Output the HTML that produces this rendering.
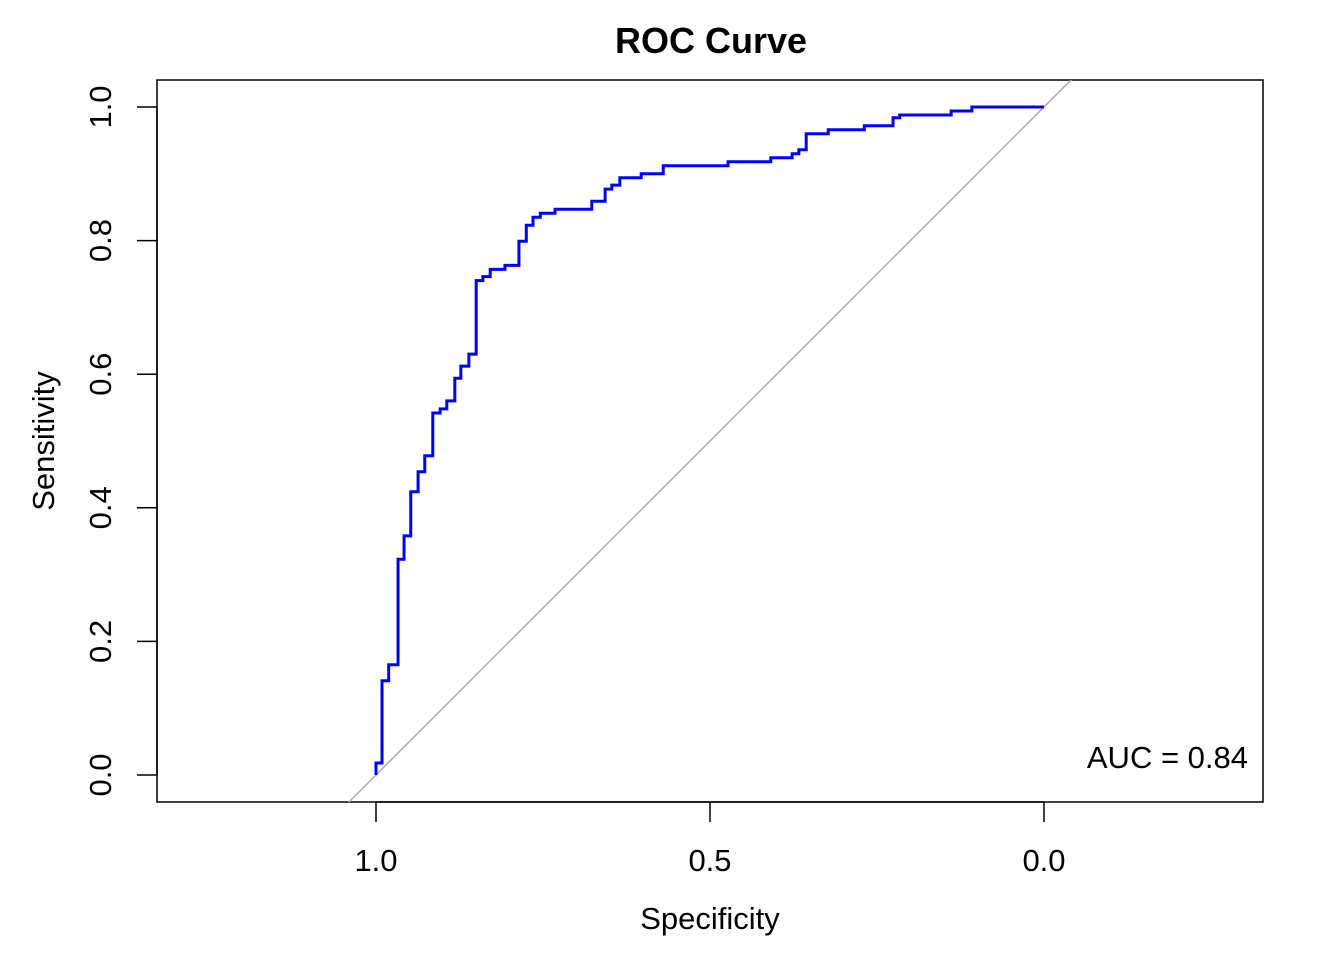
<!DOCTYPE html>
<html><head><meta charset="utf-8"><style>
html,body{margin:0;padding:0;background:#fff}
svg text{font-family:"Liberation Sans",Arial,sans-serif;fill:#000}
</style></head><body>
<svg width="1344" height="960" viewBox="0 0 1344 960" xmlns="http://www.w3.org/2000/svg">
<defs><clipPath id="pc"><rect x="157" y="80" width="1106" height="722"/></clipPath></defs>
<text x="711" y="53" font-size="36" font-weight="bold" text-anchor="middle">ROC Curve</text>
<rect x="157" y="80" width="1106" height="722" fill="none" stroke="#000" stroke-width="1.5"/>
<g id="xaxis"></g>
<g id="yaxis"></g>
<line id="diag" clip-path="url(#pc)" stroke="#aaaaaa" stroke-width="1.5"/>
<path id="roc" fill="none" stroke="#0000ff" stroke-width="3"/>
<text x="710" y="929" font-size="31" text-anchor="middle">Specificity</text>
<text transform="translate(54,441) rotate(-90)" font-size="31" text-anchor="middle">Sensitivity</text>
<text x="1248" y="768" font-size="31" text-anchor="end">AUC = 0.84</text>
</svg>
<script>
const specificity=[1.000,0.991,0.981,0.967,0.958,0.948,0.937,0.927,0.915,0.904,0.894,0.882,0.873,0.861,0.850,0.840,0.829,0.807,0.786,0.775,0.765,0.754,0.732,0.677,0.657,0.647,0.635,0.603,0.570,0.473,0.409,0.377,0.367,0.356,0.323,0.269,0.226,0.216,0.139,0.108,0.000];
const sensitivity=[0.018,0.141,0.165,0.323,0.358,0.424,0.454,0.478,0.542,0.548,0.560,0.594,0.612,0.630,0.740,0.746,0.757,0.763,0.799,0.823,0.835,0.841,0.847,0.859,0.877,0.883,0.894,0.900,0.912,0.918,0.924,0.930,0.936,0.960,0.966,0.972,0.984,0.988,0.994,1.000,1.000];
const xTicks=[1.0,0.5,0.0];
const xTickLabels=["1.0","0.5","0.0"];
const yTicks=[0,0.2,0.4,0.6,0.8,1.0];
const yTickLabels=["0.0","0.2","0.4","0.6","0.8","1.0"];
const NS="http://www.w3.org/2000/svg";
const X=s=>1044-(s)*668;
const Y=v=>775-v*668;
const xa=document.getElementById('xaxis'),ya=document.getElementById('yaxis');
function mk(t,a,p){const e=document.createElementNS(NS,t);for(const k in a)e.setAttribute(k,a[k]);p.appendChild(e);return e;}
mk('line',{x1:X(1),x2:X(0),y1:802,y2:802,stroke:'#000','stroke-width':1.5},xa);
xTicks.forEach((t,i)=>{
 const l=mk('line',{x1:X(t),x2:X(t),y1:802,y2:822,stroke:'#000','stroke-width':1.5},xa);
 
 
 const tx=mk('text',{x:X(t),y:871,'font-size':31,'text-anchor':'middle'},xa);tx.textContent=xTickLabels[i];
 
 
});
mk('line',{x1:157,x2:157,y1:Y(0),y2:Y(1),stroke:'#000','stroke-width':1.5},ya);
yTicks.forEach((t,i)=>{
 const l=mk('line',{x1:137,x2:157,y1:Y(t),y2:Y(t),stroke:'#000','stroke-width':1.5},ya);
 
 
 const tx=mk('text',{transform:`translate(111,${Y(t)}) rotate(-90)`,'font-size':31,'text-anchor':'middle'},ya);tx.textContent=yTickLabels[i];
 
 
});
const d=document.getElementById('diag');
d.setAttribute('x1',X(1.1));d.setAttribute('y1',Y(-0.1));d.setAttribute('x2',X(-0.1));d.setAttribute('y2',Y(1.1));
let p=`M${X(specificity[0])},${Y(0)}`;
for(let i=0;i<specificity.length;i++){
 p+=` L${X(specificity[i])},${Y(i?sensitivity[i-1]:0)} L${X(specificity[i])},${Y(sensitivity[i])}`;
}
document.getElementById('roc').setAttribute('d',p);
</script>
</body></html>
